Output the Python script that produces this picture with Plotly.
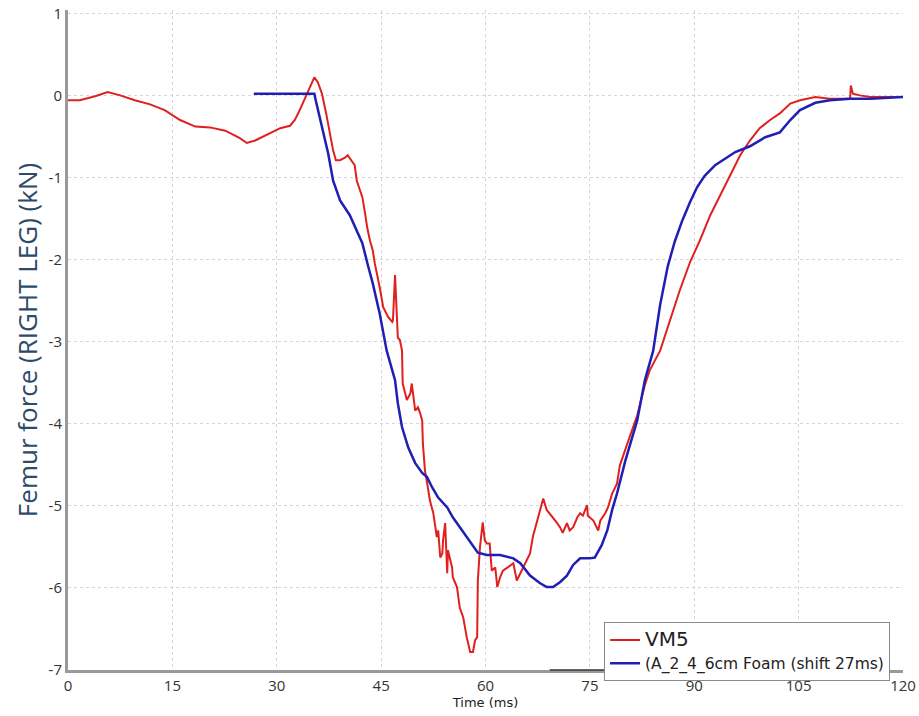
import plotly.graph_objects as go

# VM5 test curve: femur force (kN) against time (ms)
vm5_time = [0.0, 1.7, 3.9, 5.7, 7.5, 9.6, 11.8, 13.9, 16.1, 18.3, 20.4, 22.6, 24.7, 25.7,
            26.9, 28.3, 30.5, 31.9, 32.6, 33.3, 34.1, 34.8, 35.4, 35.9, 36.5, 37.1, 37.7,
            38.1, 38.5, 39.1, 39.8, 40.2, 40.7, 41.2, 41.5, 42.3, 42.7, 43.0, 43.4, 43.8,
            44.1, 44.6, 44.8, 45.3, 46.0, 46.6, 46.7, 47.0, 47.1, 47.4, 47.7, 48.0, 48.1,
            48.7, 49.2, 49.4, 49.9, 50.3, 50.6, 50.9, 51.0, 51.3, 51.7, 52.0, 52.5, 53.0,
            53.2, 53.5, 53.8, 53.9, 54.2, 54.5, 54.6, 54.9, 55.2, 55.3, 55.9, 56.3, 56.8,
            57.3, 57.8, 58.2, 58.5, 58.8, 58.9, 59.2, 59.6, 59.9, 60.2, 60.6, 60.9, 61.4,
            61.7, 62.1, 62.5, 63.2, 64.0, 64.5, 65.0, 65.4, 66.0, 66.4, 66.8, 67.4, 67.8,
            68.3, 68.8, 69.7, 70.3, 70.7, 71.1, 71.7, 72.1, 72.6, 73.2, 73.6, 74.0, 74.6,
            74.7, 75.5, 76.2, 76.5, 77.2, 77.6, 78.2, 78.9, 79.3, 80.8, 81.8, 82.9, 83.6,
            85.1, 86.5, 87.9, 89.4, 90.8, 92.3, 93.7, 95.1, 96.6, 98.0, 99.4, 100.9, 102.3,
            103.8, 105.2, 107.4, 109.5, 112.4, 112.5, 112.8, 113.8, 115.3, 120.0]
vm5_force = [-0.06, -0.06, -0.01, 0.04, 0.00, -0.06, -0.11, -0.18, -0.30, -0.38, -0.39, -0.43,
             -0.52, -0.58, -0.55, -0.49, -0.40, -0.37, -0.30, -0.18, -0.02, 0.12, 0.22, 0.16,
             0.02, -0.22, -0.51, -0.67, -0.79, -0.79, -0.76, -0.73, -0.79, -0.85, -1.04,
             -1.24, -1.44, -1.61, -1.77, -1.89, -2.05, -2.25, -2.34, -2.58, -2.70, -2.76,
             -2.74, -2.19, -2.41, -2.95, -2.98, -3.11, -3.51, -3.71, -3.63, -3.51, -3.84,
             -3.80, -3.87, -3.96, -4.24, -4.57, -4.77, -4.93, -5.09, -5.38, -5.30, -5.63,
             -5.58, -5.42, -5.21, -5.82, -5.54, -5.66, -5.75, -5.87, -5.99, -6.24, -6.36,
             -6.60, -6.78, -6.78, -6.64, -6.60, -5.91, -5.51, -5.20, -5.42, -5.46, -5.46,
             -5.79, -5.75, -5.99, -5.87, -5.79, -5.75, -5.70, -5.91, -5.82, -5.75, -5.66,
             -5.58, -5.38, -5.18, -5.05, -4.91, -5.05, -5.14, -5.21, -5.26, -5.33, -5.21,
             -5.30, -5.26, -5.14, -5.09, -5.12, -4.99, -5.12, -5.18, -5.30, -5.18, -5.09,
             -5.02, -4.85, -4.73, -4.51, -4.14, -3.90, -3.53, -3.35, -3.11, -2.74, -2.38,
             -2.03, -1.77, -1.46, -1.22, -0.97, -0.73, -0.55, -0.40, -0.30, -0.22, -0.10,
             -0.06, -0.02, -0.04, -0.04, 0.12, 0.02, 0.00, -0.02, -0.02]

# Simulation curve (shifted by 27 ms)
sim_time = [26.7, 35.4, 35.6, 36.5, 37.4, 38.1, 39.1, 40.5, 41.5, 42.3, 43.1, 43.8, 44.8,
            45.8, 47.0, 47.4, 48.0, 48.9, 49.9, 50.9, 51.6, 52.3, 53.2, 54.5, 55.3, 57.3,
            58.9, 60.2, 62.1, 64.0, 65.0, 66.4, 67.8, 68.8, 69.7, 70.7, 71.7, 72.6, 73.6,
            75.0, 75.7, 76.7, 77.5, 78.2, 78.9, 80.1, 81.8, 82.9, 84.1, 85.1, 86.2, 87.2,
            88.3, 89.4, 90.4, 91.5, 93.0, 95.9, 98.0, 100.2, 102.3, 103.8, 105.2, 107.4,
            109.5, 112.4, 115.3, 120.0]
sim_force = [0.02, 0.02, -0.06, -0.39, -0.71, -1.04, -1.28, -1.46, -1.64, -1.80, -2.07,
             -2.29, -2.66, -3.11, -3.47, -3.75, -4.04, -4.29, -4.48, -4.60, -4.65, -4.77,
             -4.90, -5.02, -5.14, -5.38, -5.57, -5.60, -5.60, -5.64, -5.70, -5.85, -5.94,
             -5.99, -5.99, -5.93, -5.85, -5.72, -5.64, -5.64, -5.63, -5.48, -5.30, -5.05,
             -4.85, -4.45, -3.96, -3.47, -3.11, -2.55, -2.08, -1.78, -1.52, -1.30, -1.12,
             -0.98, -0.85, -0.69, -0.62, -0.51, -0.45, -0.30, -0.18, -0.09, -0.06, -0.04,
             -0.04, -0.02]

x_ticks = [0, 15, 30, 45, 60, 75, 90, 105, 120]
y_ticks = [1, 0, -1, -2, -3, -4, -5, -6, -7]

fig = go.Figure()
fig.add_trace(go.Scatter(
    x=vm5_time, y=vm5_force, mode="lines",
    name="<span style='font-size:20px'>VM5</span>",
    line=dict(color="#e0201e", width=2),
))
fig.add_trace(go.Scatter(
    x=sim_time, y=sim_force, mode="lines",
    name="(A_2_4_6cm Foam (shift 27ms)",
    line=dict(color="#1f1fb4", width=2.5),
))

axis_common = dict(
    showgrid=True, gridcolor="#d6d6d6", griddash="dot", gridwidth=1,
    zeroline=False, ticks="", automargin=False,
    tickfont=dict(family="Open Sans", size=15, color="#333333"),
)
fig.update_xaxes(
    range=[0, 120], tickvals=x_ticks, ticktext=[str(v) for v in x_ticks],
    showline=True, linecolor="#9a9a9a", linewidth=3, mirror=False,
    title=dict(text="Time (ms)", font=dict(family="DejaVu Sans", size=13, color="#222222"),
               standoff=2),
    **axis_common,
)
fig.update_yaxes(
    range=[-7, 1.04], tickvals=y_ticks, ticktext=[str(v) for v in y_ticks],
    showline=True, linecolor="#9a9a9a", linewidth=3,
    title=dict(text="Femur force (RIGHT LEG) (kN)",
               font=dict(family="Open Sans", size=26, color="#2d4a6b"), standoff=4),
    **axis_common,
)

# short dark segment on the time axis next to the legend box
fig.add_shape(type="line", xref="paper", yref="paper", x0=0.577, x1=0.643, y0=0, y1=0,
              line=dict(color="#333333", width=1.5))

fig.update_layout(
    width=919, height=716,
    margin=dict(l=68, r=16, t=10, b=46),
    paper_bgcolor="white", plot_bgcolor="white",
    showlegend=True,
    legend=dict(
        x=0.642, y=0.072, xanchor="left", yanchor="top",
        bgcolor="white", bordercolor="#8a8a8a", borderwidth=1,
        font=dict(family="DejaVu Sans", size=15.5, color="#222222"),
        tracegroupgap=0, itemwidth=30,
    ),
)

fig.write_html("out.html")
